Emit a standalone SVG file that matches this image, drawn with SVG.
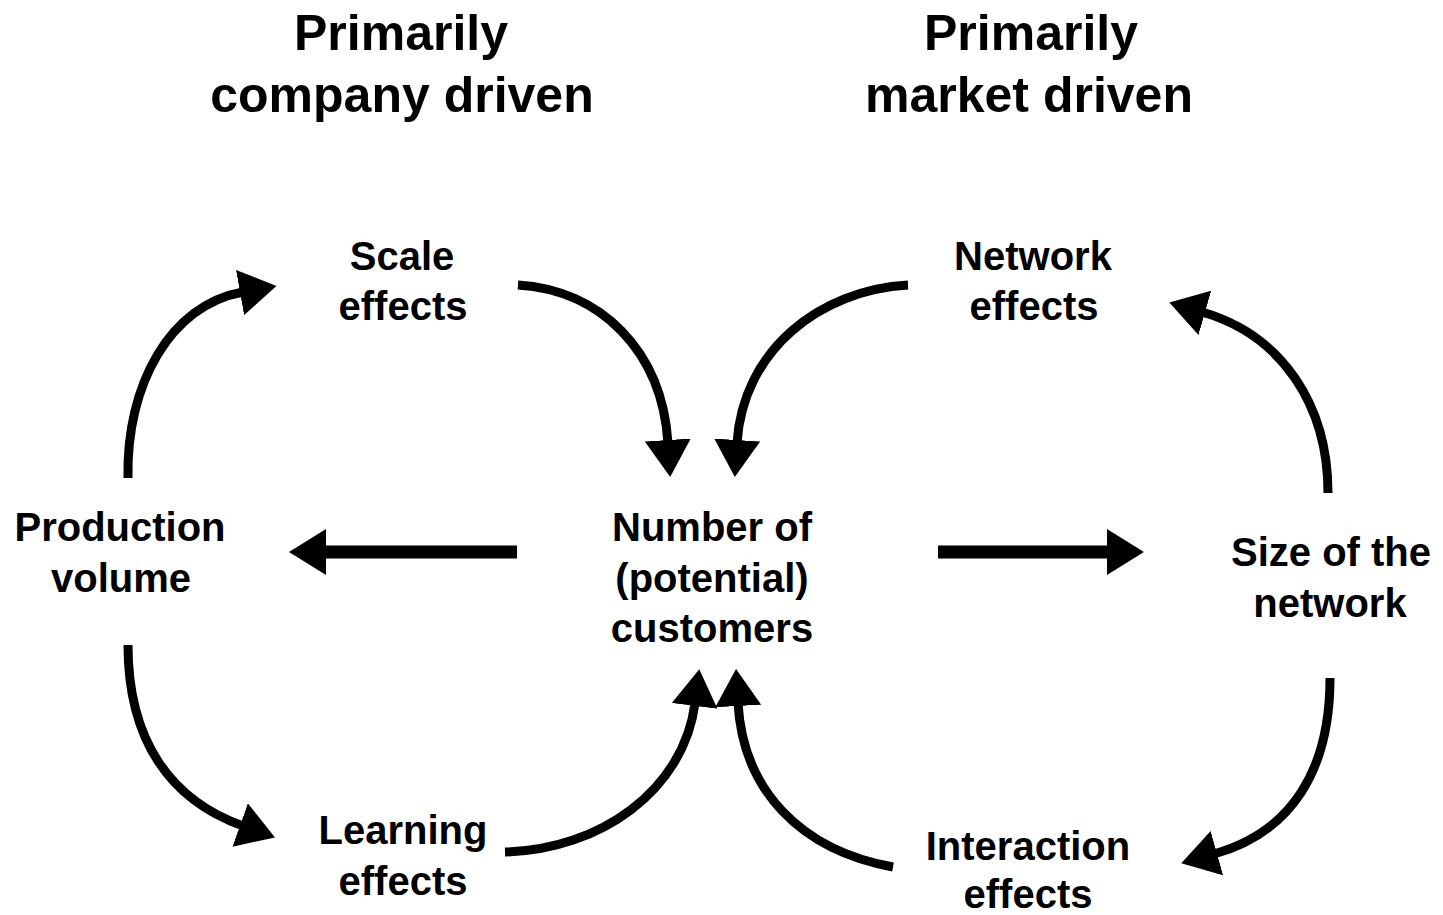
<svg xmlns="http://www.w3.org/2000/svg" width="1443" height="915" viewBox="0 0 1443 915">
<style>
.t{font-family:"Liberation Sans",Arial,sans-serif;font-weight:bold;fill:#000;text-anchor:middle}
.h{font-size:50px}
.n{font-size:40px}
.c{fill:none;stroke:#000;stroke-width:9;stroke-linecap:butt}
.s{fill:none;stroke:#000;stroke-width:13}
</style>
<defs>
<marker id="ah" markerUnits="userSpaceOnUse" markerWidth="40" markerHeight="46" viewBox="0 0 40 46" refX="3" refY="23" orient="auto">
<path d="M0,0 L37,23 L0,46 Z" fill="#000"/>
</marker>
</defs>
<rect width="1443" height="915" fill="#fff"/>
<g id="title-company">
<text class="t h" x="401" y="50">Primarily</text>
<text class="t h" x="402" y="112">company driven</text>
</g>
<g id="title-market">
<text class="t h" x="1031" y="50">Primarily</text>
<text class="t h" x="1029" y="112">market driven</text>
</g>
<g id="scale">
<text class="t n" x="402" y="270">Scale</text>
<text class="t n" x="403" y="320">effects</text>
</g>
<g id="network">
<text class="t n" x="1033" y="270">Network</text>
<text class="t n" x="1034" y="320">effects</text>
</g>
<g id="production">
<text class="t n" x="120" y="541">Production</text>
<text class="t n" x="121" y="592">volume</text>
</g>
<g id="customers">
<text class="t n" x="712" y="541">Number of</text>
<text class="t n" x="712" y="592">(potential)</text>
<text class="t n" x="712" y="642">customers</text>
</g>
<g id="size">
<text class="t n" x="1331" y="566">Size of the</text>
<text class="t n" x="1330" y="617">network</text>
</g>
<g id="learning">
<text class="t n" x="403" y="844">Learning</text>
<text class="t n" x="403" y="895">effects</text>
</g>
<g id="interaction">
<text class="t n" x="1028" y="860">Interaction</text>
<text class="t n" x="1028" y="908">effects</text>
</g>
<g id="connectors">
<path class="c" d="M128,478 C126,385 170,305 243,292" marker-end="url(#ah)"/>
<path class="c" d="M518,285 C600,290 662,350 668,443" marker-end="url(#ah)"/>
<path class="c" d="M908,285 C820,290 743,350 737,443" marker-end="url(#ah)"/>
<path class="c" d="M1328,493 C1328,405 1282,335 1202,312" marker-end="url(#ah)"/>
<path class="s" d="M517,552 L323,552" marker-end="url(#ah)"/>
<path class="s" d="M938,552 L1110,552" marker-end="url(#ah)"/>
<path class="c" d="M128,645 C128,740 170,800 243,826" marker-end="url(#ah)"/>
<path class="c" d="M505,852 C600,850 684,790 695,703" marker-end="url(#ah)"/>
<path class="c" d="M893,867 C800,850 743,790 738,703" marker-end="url(#ah)"/>
<path class="c" d="M1330,678 C1330,770 1292,832 1214,854" marker-end="url(#ah)"/>
</g>
</svg>
